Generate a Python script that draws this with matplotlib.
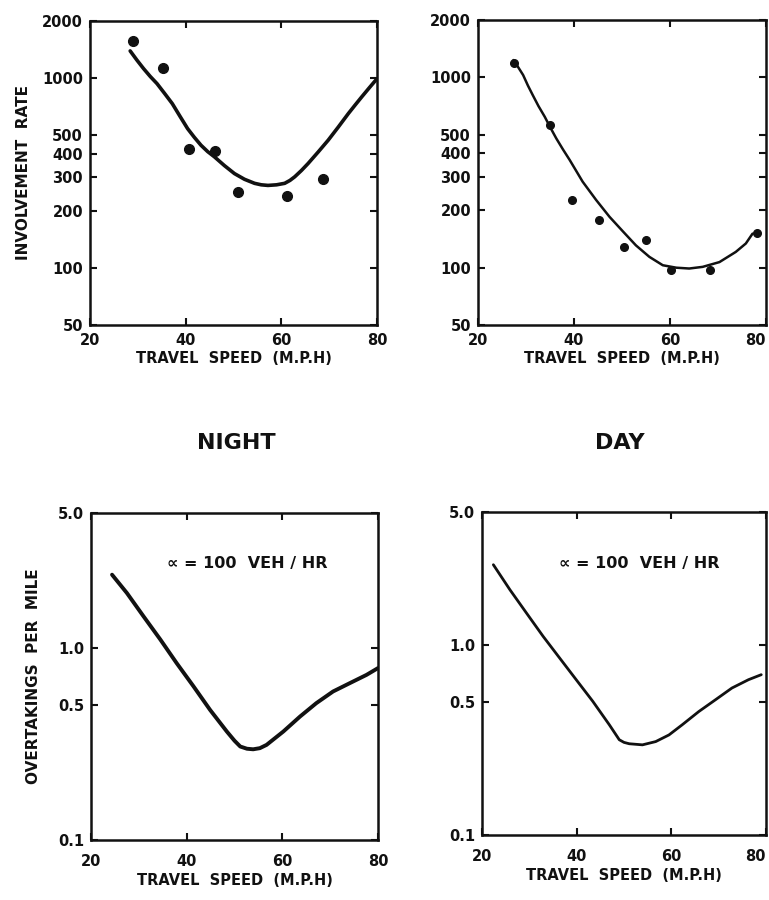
import matplotlib
matplotlib.use("Agg")
import matplotlib.pyplot as plt
from matplotlib.ticker import FixedLocator, FixedFormatter, NullLocator

plt.rcParams['font.family'] = ['DejaVu Sans']
plt.rcParams['font.weight'] = 'bold'

INK = '#111111'

# Involvement rate vs travel speed, night
night_pts_speed = [29.0, 35.3, 40.7, 46.1, 50.9, 61.2, 68.7]
night_pts_rate = [1570, 1130, 424, 414, 252, 240, 295]
night_fit_speed = [28.4, 29.8, 31.2, 32.6, 34.0, 35.6, 37.2, 38.8, 40.4, 41.8, 43.2,
                   44.6, 46.0, 48.1, 50.2, 52.3, 54.4, 55.8, 57.2, 59.0,
                   60.7, 61.8, 62.8, 64.2, 65.6, 67.7, 69.8, 71.9, 74.0, 75.4,
                   76.8, 78.4, 80.0]
night_fit_rate = [1391, 1245, 1122, 1020, 936, 830, 734, 630, 542, 488, 443,
                  410, 385, 346, 314, 293, 279, 274, 272, 274,
                  279, 289, 302, 326, 355, 408, 471, 552, 650, 720,
                  796, 890, 993]

# Involvement rate vs travel speed, day
day_pts_speed = [27.6, 34.9, 39.6, 45.2, 50.5, 55.1, 60.2, 68.4, 78.1]
day_pts_rate = [1183, 561, 226, 178, 129, 140, 97, 97, 153]
day_fit_speed = [27.4, 28.4, 29.4, 30.4, 31.4, 32.6, 33.9, 35.1, 36.3, 37.7,
                 39.1, 41.8, 44.6, 47.4, 50.2, 52.9, 55.7, 58.5, 61.3, 64.0,
                 66.8, 70.3, 73.7, 75.8, 77.2]
day_fit_rate = [1232, 1127, 1028, 905, 807, 706, 621, 543, 478, 418,
                368, 283, 227, 185, 155, 131, 114, 103, 100, 99,
                101, 107, 121, 134, 151]

# Overtakings per mile vs travel speed
night_ovt_speed = [24.4, 27.5, 31.0, 34.5, 37.9, 41.4, 44.9, 48.4, 50.0, 51.2, 52.6, 53.9,
                   55.3, 56.7, 60.2, 63.7, 67.1, 70.6, 74.1, 77.6, 80.0]
night_ovt = [2.39, 1.92, 1.45, 1.10, 0.83, 0.63, 0.474, 0.366, 0.328, 0.306, 0.298, 0.296,
             0.300, 0.312, 0.366, 0.438, 0.514, 0.591, 0.653, 0.721, 0.782]
day_ovt_speed = [22.4, 25.9, 29.4, 32.9, 36.4, 39.9, 43.4, 46.9, 49.0, 50.0, 51.1,
                 53.9, 56.7, 59.5, 62.3, 65.8, 69.3, 72.8, 76.3, 79.0]
day_ovt = [2.64, 1.95, 1.47, 1.11, 0.853, 0.656, 0.505, 0.380, 0.317, 0.307, 0.302,
           0.298, 0.310, 0.336, 0.380, 0.446, 0.514, 0.593, 0.656, 0.697]

speed_ticks = [20, 40, 60, 80]
rate_ticks = [50, 100, 200, 300, 400, 500, 1000, 2000]
rate_labels = ['50', '100', '200', '300', '400', '500', '1000', '2000']
ovt_ticks = [0.1, 0.5, 1.0, 5.0]
ovt_labels = ['0.1', '0.5', '1.0', '5.0']

flow_note = '\u221d = 100  VEH / HR'
xlab = 'TRAVEL  SPEED  (M.P.H)'

fig = plt.figure(figsize=(7.69, 9.0), dpi=100)
fig.patch.set_facecolor('white')

W, H = 769.0, 900.0


def box(left, top, right, bottom):
    return [left / W, 1 - bottom / H, (right - left) / W, (bottom - top) / H]


ax_tl = fig.add_axes(box(90, 21, 377, 325))
ax_tr = fig.add_axes(box(478, 20, 766, 325))
ax_bl = fig.add_axes(box(91, 513, 378, 840))
ax_br = fig.add_axes(box(482, 512, 766, 835))


def style(ax, yticks, ylabels, ylim, xpad, lpad, edge_right=False):
    ax.set_yscale('log')
    ax.set_xlim(20, 80)
    ax.set_ylim(*ylim)
    ax.xaxis.set_major_locator(FixedLocator(speed_ticks))
    ax.yaxis.set_major_locator(FixedLocator(yticks))
    ax.yaxis.set_major_formatter(FixedFormatter(ylabels))
    ax.yaxis.set_minor_locator(NullLocator())
    ax.xaxis.set_minor_locator(NullLocator())
    ax.tick_params(direction='in', length=5, width=1.5, colors=INK,
                   top=True, right=True, labelsize=10.5)
    ax.tick_params(axis='x', pad=xpad)
    ax.tick_params(axis='y', pad=5)
    for lab in ax.get_xticklabels() + ax.get_yticklabels():
        lab.set_fontweight('bold')
    if edge_right:
        ax.figure.canvas.draw()
        ax.get_xticklabels()[-1].set_horizontalalignment('right')
    for s in ax.spines.values():
        s.set_linewidth(1.8)
        s.set_color(INK)
    ax.set_xlabel(xlab, fontsize=10.5, fontweight='bold', color=INK, labelpad=lpad)


style(ax_tl, rate_ticks, rate_labels, (50, 2000), 6, 2)
style(ax_tr, rate_ticks, rate_labels, (50, 2000), 6, 2, edge_right=True)
style(ax_bl, ovt_ticks, ovt_labels, (0.1, 5.0), 10, 3)
style(ax_br, ovt_ticks, ovt_labels, (0.1, 5.0), 10, 3, edge_right=True)

ax_tl.plot(night_fit_speed, night_fit_rate, color=INK, lw=2.6,
           solid_capstyle='round', solid_joinstyle='round')
ax_tl.plot(night_pts_speed, night_pts_rate, 'o', color=INK, ms=7)
ax_tl.set_ylabel('INVOLVEMENT  RATE', fontsize=11, fontweight='bold', color=INK, labelpad=8)

ax_tr.plot(day_fit_speed, day_fit_rate, color=INK, lw=1.8,
           solid_capstyle='round', solid_joinstyle='round')
ax_tr.plot(day_pts_speed, day_pts_rate, 'o', color=INK, ms=5.5)

ax_bl.plot(night_ovt_speed, night_ovt, color=INK, lw=2.8,
           solid_capstyle='round', solid_joinstyle='round')
ax_bl.set_ylabel('OVERTAKINGS  PER  MILE', fontsize=11, fontweight='bold', color=INK, labelpad=12)
ax_bl.text(0.544, 0.847, flow_note, transform=ax_bl.transAxes, ha='center', va='center',
           fontsize=11.5, fontweight='bold', color=INK)

ax_br.plot(day_ovt_speed, day_ovt, color=INK, lw=2.0,
           solid_capstyle='round', solid_joinstyle='round')
ax_br.text(0.552, 0.842, flow_note, transform=ax_br.transAxes, ha='center', va='center',
           fontsize=11.5, fontweight='bold', color=INK)

fig.text(236 / W, 1 - 443 / H, 'NIGHT', ha='center', va='center',
         fontsize=16, fontweight='bold', color=INK)
fig.text(620 / W, 1 - 443 / H, 'DAY', ha='center', va='center',
         fontsize=16, fontweight='bold', color=INK)

fig.savefig('out.png', dpi=100, facecolor='white')
